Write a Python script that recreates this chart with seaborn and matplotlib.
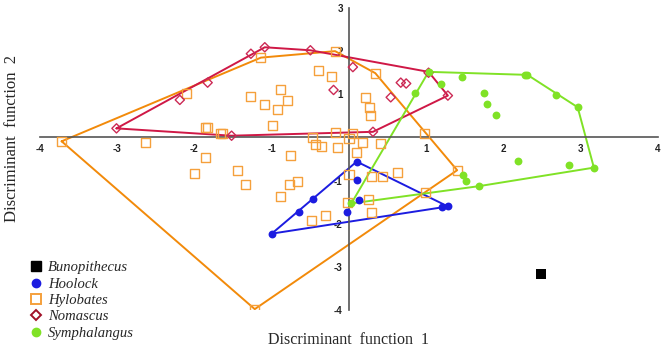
import numpy as np
import pandas as pd
import matplotlib.pyplot as plt
import seaborn as sns
from matplotlib.lines import Line2D

sns.set_style('white')
plt.rcParams['font.family'] = ['Liberation Sans', 'DejaVu Sans']

# Discriminant scores
hylo_x = [-3.72, -2.63, -2.11, -1.14, -0.18, -0.39, -0.23, -1.27, -0.89, -1.10, -0.79, -0.92,
          -0.99, -1.86, -1.83, -1.66, -1.64, -0.18, -0.47, -0.44, -0.35, -0.15, 0.00, 0.05,
          0.10, -0.76, -1.86, -2.00, -1.44, -1.34, -0.77, -0.67, -0.89, -0.49, -0.30, -0.02,
          0.00, 0.98, 1.40, 0.99, 0.63, 0.44, 0.29, 0.25, 0.29, 0.18, 0.41, 0.34, 0.22, 0.26,
          0.28, -1.22]
hylo_y = [-0.09, -0.11, 1.02, 1.85, 2.00, 1.56, 1.41, 0.94, 1.10, 0.77, 0.85, 0.64,
          0.28, 0.24, 0.23, 0.08, 0.10, 0.12, 0.00, -0.17, -0.21, -0.24, -0.03, 0.08,
          -0.34, -0.41, -0.47, -0.83, -0.77, -1.08, -1.08, -1.03, -1.36, -1.92, -1.81, -1.51,
          -0.86, 0.10, -0.76, -1.27, -0.82, -0.90, -0.91, -1.45, -1.75, -0.11, -0.13, 1.49, 0.93, 0.70,
          0.51, -3.98]
hylo_hull_x = [-3.72, -1.14, -0.18, 0.34, 1.40, -1.22, -3.72]
hylo_hull_y = [-0.09, 1.85, 2.00, 1.49, -0.76, -3.98, -0.09]

hool_x = [0.10, -0.47, -0.65, -1.00, -0.03, 0.11, 0.13, 1.21, 1.28]
hool_y = [-0.56, -1.43, -1.74, -2.23, -1.72, -0.99, -1.45, -1.62, -1.60]
hool_hull_x = [0.10, 1.28, -1.00, 0.10]
hool_hull_y = [-0.56, -1.60, -2.23, -0.56]

noma_x = [-3.01, -2.19, -1.83, -1.27, -1.09, -0.50, 0.05, -0.20, -1.52, 1.03, 1.28, 0.54,
          0.67, 0.74, 0.31]
noma_y = [0.21, 0.87, 1.27, 1.94, 2.09, 2.02, 1.63, 1.10, 0.04, 1.50, 0.97, 0.93,
          1.27, 1.25, 0.13]
noma_hull_x = [-3.01, -1.09, -0.50, 1.03, 1.28, 0.31, -1.52, -3.01]
noma_hull_y = [0.21, 2.09, 2.02, 1.52, 0.97, 0.13, 0.04, 0.21]

symp_x = [0.03, 0.85, 1.03, 1.19, 1.46, 1.75, 1.78, 1.90, 2.28, 2.31, 2.68, 2.96,
          3.17, 2.85, 2.19, 1.48, 1.51, 1.68]
symp_y = [-1.53, 1.03, 1.52, 1.25, 1.39, 1.04, 0.77, 0.52, 1.44, 1.45, 0.99, 0.70,
          -0.70, -0.64, -0.54, -0.87, -1.00, -1.13]
symp_hull_x = [0.03, 1.03, 2.31, 2.96, 3.17, 1.68, 0.03]
symp_hull_y = [-1.53, 1.52, 1.45, 0.70, -0.70, -1.13, -1.53]

buno_x = [2.48]
buno_y = [-3.17]

ticks_x = [-4, -3, -2, -1, 0, 1, 2, 3, 4]
ticks_y = [-4, -3, -2, -1, 0, 1, 2, 3]

c_hylo, c_hylo_line = '#f5a03c', '#f28a0a'
c_hool = '#1c1ce0'
c_noma, c_noma_line = '#cc2a55', '#cf1846'
c_symp = '#80e226'

fig = plt.figure(figsize=(6.66, 3.5), dpi=100)
ax = fig.add_axes([40 / 666, 1 - 310 / 350, 618 / 666, 302 / 350])

# hull outlines
for hx, hy, c in [(hylo_hull_x, hylo_hull_y, c_hylo_line),
                  (noma_hull_x, noma_hull_y, c_noma_line),
                  (hool_hull_x, hool_hull_y, c_hool),
                  (symp_hull_x, symp_hull_y, c_symp)]:
    sns.lineplot(x=hx, y=hy, sort=False, estimator=None, color=c, lw=1.4, ax=ax)

# points
sns.scatterplot(x=hylo_x, y=hylo_y, marker='s', s=42, facecolor='none',
                edgecolor=c_hylo, linewidth=1.0, ax=ax, zorder=3)
sns.scatterplot(x=noma_x, y=noma_y, marker='D', s=22, facecolor='none',
                edgecolor=c_noma, linewidth=1.0, ax=ax, zorder=3)
sns.scatterplot(x=hool_x, y=hool_y, marker='o', s=32, color=c_hool,
                edgecolor=c_hool, linewidth=0, ax=ax, zorder=3)
sns.scatterplot(x=symp_x, y=symp_y, marker='o', s=32, color=c_symp,
                edgecolor=c_symp, linewidth=0, ax=ax, zorder=3)
sns.scatterplot(x=buno_x, y=buno_y, marker='s', s=42, color='black',
                edgecolor='black', linewidth=0, ax=ax, zorder=3)

# centred axes
ax.set_xlim(-4, 4)
ax.set_ylim(-4, 3)
for side in ['top', 'right']:
    ax.spines[side].set_visible(False)
for side in ['left', 'bottom']:
    ax.spines[side].set_position(('data', 0))
    ax.spines[side].set_color('#555555')
    ax.spines[side].set_linewidth(1.2)
ax.set_xticks(ticks_x)
ax.set_xticklabels(['' if t == 0 else str(t) for t in ticks_x])
ax.set_yticks(ticks_y)
ax.set_yticklabels(['' if t == 0 else str(t) for t in ticks_y])
ax.tick_params(direction='out', length=3, width=1, color='#555555',
               labelsize=7, labelcolor='#222222', pad=1.5)
for lab in ax.get_xticklabels() + ax.get_yticklabels():
    lab.set_fontweight('bold')
ax.set_xlabel('')
ax.set_ylabel('')

fig.text(349 / 666, 1 - 340 / 350, 'Discriminant  function  1', ha='center', va='center',
         fontsize=11.5, family='Liberation Serif')
fig.text(12 / 666, 1 - 138 / 350, 'Discriminant  function  2', ha='center', va='center',
         rotation=90, fontsize=12, family='Liberation Serif')

handles = [
    Line2D([], [], ls='none', marker='s', ms=6.5, mfc='black', mec='black'),
    Line2D([], [], ls='none', marker='o', ms=6, mfc=c_hool, mec=c_hool),
    Line2D([], [], ls='none', marker='s', ms=6.5, mfc='none', mec=c_hylo, mew=1.4),
    Line2D([], [], ls='none', marker='D', ms=5.5, mfc='none', mec='#a01028', mew=1.4),
    Line2D([], [], ls='none', marker='o', ms=6, mfc=c_symp, mec=c_symp),
]
labels = ['Bunopithecus', 'Hoolock', 'Hylobates', 'Nomascus', 'Symphalangus']
fig.legend(handles, labels, loc='upper left', bbox_to_anchor=(29 / 666, 1 - 261 / 350),
           frameon=False, handlelength=1.0, handletextpad=0.3, labelspacing=0.22,
           borderaxespad=0, borderpad=0,
           prop={'family': 'Liberation Serif', 'style': 'italic', 'size': 10.5})

fig.savefig('out.png', dpi=100)
